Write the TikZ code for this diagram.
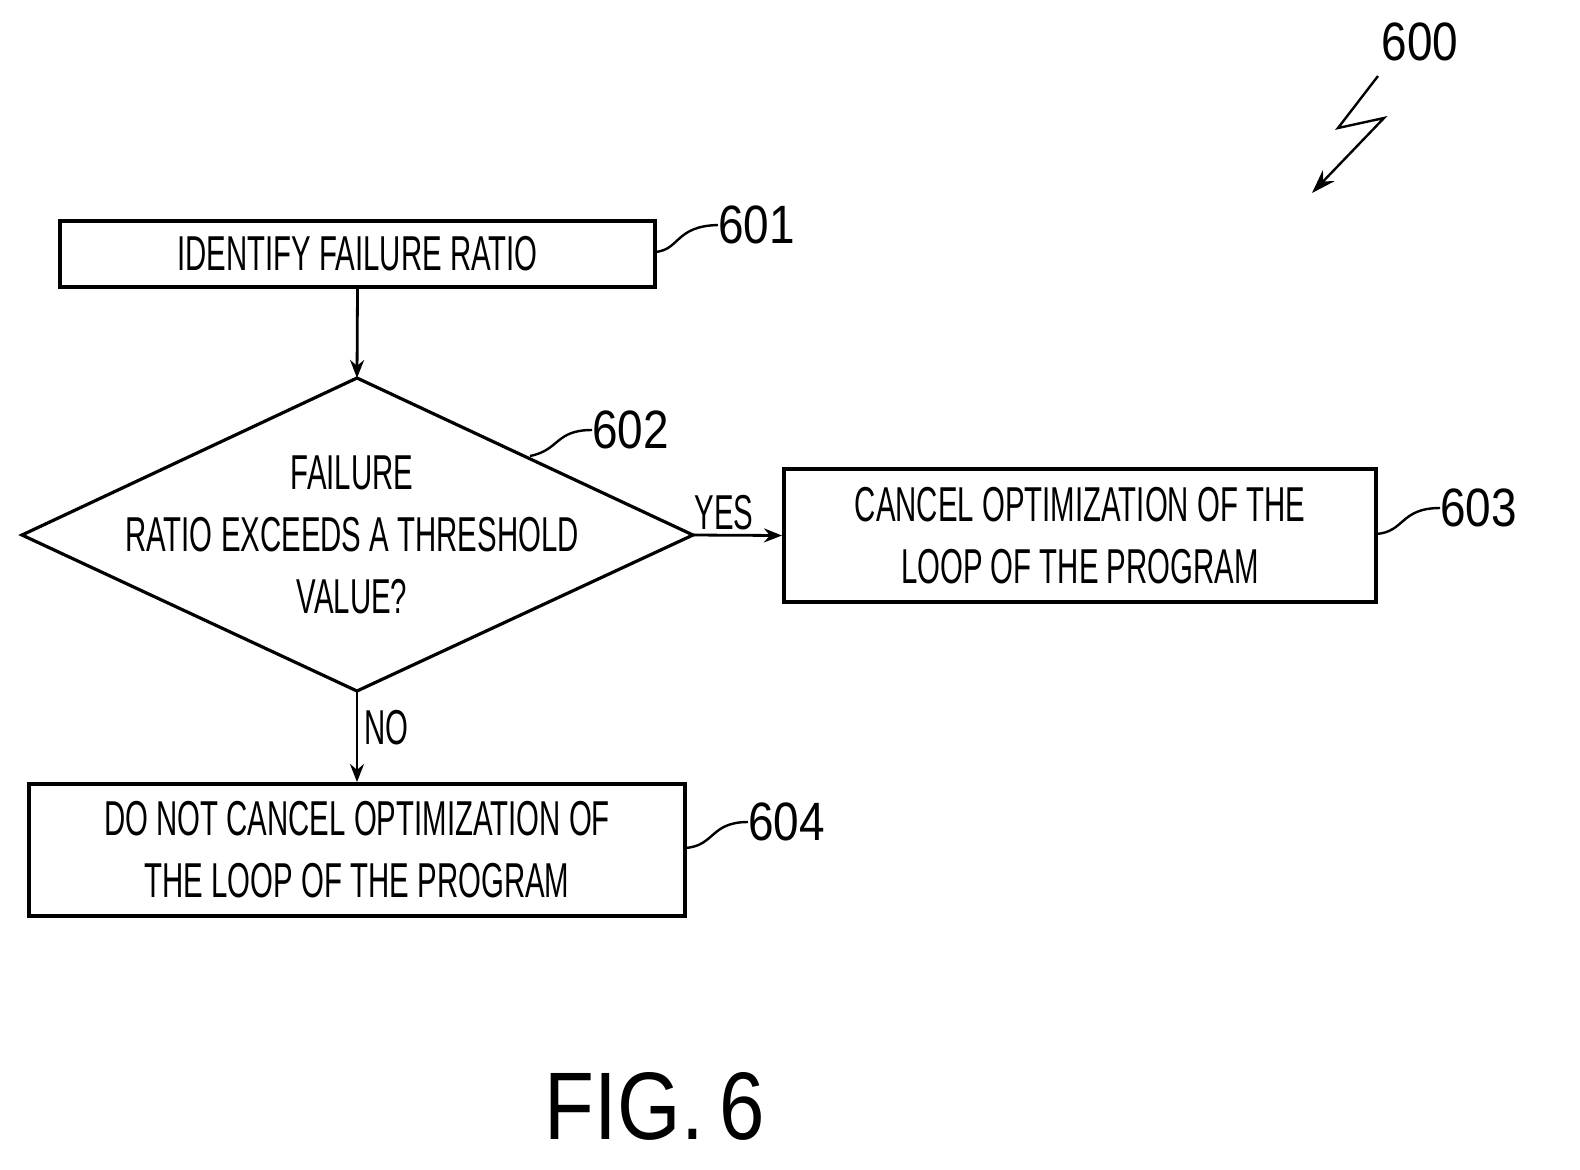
\documentclass[tikz,border=0pt]{standalone}
\usepackage{fontspec}
\setmainfont{Liberation Sans}[FakeStretch=0.6]
\newfontfamily\numfont{Liberation Sans}[FakeStretch=0.85]
\usetikzlibrary{shapes.geometric,arrows.meta}
\tikzset{
  box/.style={draw,line width=2pt,align=center,font=\fontsize{24.5}{31}\selectfont},
  flow/.style={-{Stealth[length=9pt,width=7pt]},line width=1.4pt},
  lead/.style={line width=1.2pt},
  refnum/.style={font=\numfont\fontsize{27}{30}\selectfont,inner sep=0pt}
}
\begin{document}
\begin{tikzpicture}[x=0.5pt,y=-0.5pt]
\useasboundingbox (0,0) rectangle (1580,1169);
\node[box,minimum width=297.5pt,minimum height=33pt] (s601) at (357.5,254) {IDENTIFY FAILURE RATIO};
\coordinate (dt) at (357,378);
\coordinate (db) at (357,691);
\coordinate (dl) at (22,535);
\coordinate (dr) at (693,535);
\draw[line width=1.6pt] (dt) -- (dr) -- (db) -- (dl) -- cycle;
\node[align=center,font=\fontsize{24.5}{31}\selectfont] (s602) at (352,535) {FAILURE\\RATIO EXCEEDS A THRESHOLD\\VALUE?};
\node[box,minimum width=296pt,minimum height=66.5pt] (s603) at (1080,535.5) {CANCEL OPTIMIZATION OF THE\\LOOP OF THE PROGRAM};
\node[box,minimum width=328pt,minimum height=66pt] (s604) at (357,850) {DO NOT CANCEL OPTIMIZATION OF\\THE LOOP OF THE PROGRAM};

\draw[flow] (s601.south) -- (dt);
\draw[flow] (dr) -- (s603.west) node[pos=0.35,above,font=\fontsize{24.5}{28}\selectfont,inner sep=2pt] (yes) {YES};
\draw[flow] (db) -- (s604.north) node[pos=0.4,right,font=\fontsize{24.5}{28}\selectfont,inner sep=3pt] (no) {NO};

% reference numerals
\node[refnum,anchor=west] (n601) at (718,225) {601};
\draw[lead] (655,252) .. controls (680,250) and (675,226) .. (n601.west);
\node[refnum,anchor=west] (n602) at (592,430) {602};
\draw[lead] (530,456) .. controls (560,450) and (555,430) .. (n602.west);
\node[refnum,anchor=west] (n603) at (1440,508) {603};
\draw[lead] (1376,534) .. controls (1405,532) and (1400,508) .. (n603.west);
\node[refnum,anchor=west] (n604) at (748,822) {604};
\draw[lead] (685,848) .. controls (715,846) and (710,822) .. (n604.west);

\node[refnum] (n600) at (1420,42) {600};
\draw[lead,-{Stealth[length=12pt,width=8pt]}] (1378,76) -- (1338,128) -- (1384,118) -- (1312,193);

\node[font=\numfont\fontsize{48}{50}\selectfont] (fig) at (655,1106) {FIG.\,6};
\end{tikzpicture}
\end{document}
